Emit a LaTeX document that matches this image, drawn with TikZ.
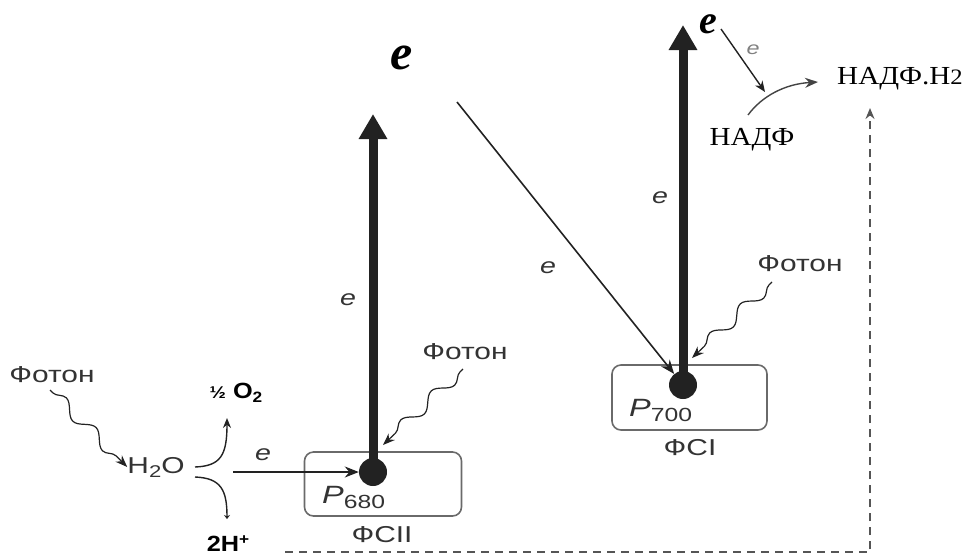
\documentclass[tikz,border=0pt]{standalone}
\usepackage{fontspec}
\setmainfont{Liberation Serif}
\newfontfamily\wsans[FakeStretch=1.3]{Liberation Sans}
\newfontfamily\bsans[FakeStretch=1.15]{Liberation Sans}
\newfontfamily\wserif[FakeStretch=1.12]{Liberation Serif}
\usetikzlibrary{arrows.meta,decorations.pathmorphing}
\definecolor{ink}{HTML}{222222}
\definecolor{txt}{HTML}{333333}
\definecolor{boxc}{HTML}{6A6A6A}
\definecolor{dashc}{HTML}{555555}
\begin{document}
\begin{tikzpicture}[x=1pt,y=-1pt,
  lbl/.style={font=\wsans\fontsize{23}{25}\selectfont, text=txt, inner sep=0pt},
  elbl/.style={font=\wsans\itshape\fontsize{22}{24}\selectfont, text=txt, inner sep=0pt},
  bigE/.style={font=\bfseries\itshape\fontsize{50}{52}\selectfont, text=black, inner sep=0pt},
  ru/.style={font=\wserif\fontsize{26}{28}\selectfont, text=black, inner sep=0pt},
  chem/.style={font=\bsans\bfseries\fontsize{22}{24}\selectfont, text=black, inner sep=0pt},
  psbox/.style={draw=boxc, line width=1.6pt, rounded corners=9pt, inner sep=0pt},
  dotnode/.style={circle, fill=ink, minimum size=28pt, inner sep=0pt},
  bigarrow/.style={draw=ink, line width=9pt, -{Triangle[width=27pt,length=25pt]}},
  earrow/.style={draw=ink, line width=1.6pt, -{Stealth[width=11pt,length=14pt]}},
  smallarrow/.style={draw=ink, line width=1.4pt, -{Stealth[width=9pt,length=11pt]}},
  wave/.style={draw=ink, line width=1.2pt, decorate,
    decoration={snake, amplitude=6pt, segment length=42pt, pre length=4pt, post length=14pt},
    -{Stealth[width=9pt,length=12pt]}},
  dashline/.style={draw=dashc, line width=1.6pt, dash pattern=on 8pt off 6pt,
    -{Stealth[width=9pt,length=11pt]}}
]
\useasboundingbox (0,0) rectangle (968,558);

% ---------- PS II ----------
\node[psbox, minimum width=157pt, minimum height=64pt] (psII) at (383,484) {};
\node[dotnode] (p680) at (373,472) {};
\node[lbl, anchor=base west] (p680t) at (322,503) {\fontsize{25}{27}\selectfont\itshape P\fontsize{19}{21}\selectfont\raisebox{-5pt}{\upshape 680}};
\node[lbl] (fsII) at (382,535) {ФСII};
\coordinate (top1) at (373,114);
\draw[bigarrow] (p680.center) -- (top1);
\node[elbl] (e2) at (348,300) {e};

% ---------- PS I ----------
\node[psbox, minimum width=155pt, minimum height=65pt] (psI) at (689.5,397.5) {};
\node[dotnode] (p700) at (683,385) {};
\node[lbl, anchor=base west] (p700t) at (629,416) {\fontsize{25}{27}\selectfont\itshape P\fontsize{19}{21}\selectfont\raisebox{-5pt}{\upshape 700}};
\node[lbl] (fsI) at (690,448) {ФСI};
\coordinate (top2) at (683,25);
\draw[bigarrow] (p700.center) -- (top2);
\node[elbl] (e4) at (660,198) {e};

% ---------- water splitting ----------
\node[lbl] (ph1) at (52,375) {Фотон};
\node[lbl] (h2o) at (156,467) {H\raisebox{-4pt}{\fontsize{17}{19}\selectfont 2}O};
\node[chem] (o2) at (236,393) {{\fontsize{17}{19}\selectfont ½} O\raisebox{-4pt}{\fontsize{15}{17}\selectfont 2}};
\node[chem] (hp) at (228,544) {2H\raisebox{7pt}{\fontsize{15}{17}\selectfont +}};
\coordinate (ph1s) at (50,390);
\draw[wave] (ph1s) -- (h2o.west);
\coordinate (c1) at (195,467);
\coordinate (c1e) at (227,418);
\draw[draw=ink, line width=1.4pt, -{Stealth[width=8pt,length=10pt]}] (c1) .. controls (221,466) and (227,455) .. (c1e);
\coordinate (c2) at (195,477);
\coordinate (c2e) at (227,519);
\draw[draw=ink, line width=1.4pt, -{Stealth[width=6pt,length=4pt]}] (c2) .. controls (221,478) and (227,490) .. (c2e);
\coordinate (ea) at (233,472);
\draw[earrow] (ea) -- (p680);
\node[elbl] (e1) at (263,455) {e};

% photon onto PS II
\node[lbl] (ph2) at (465,352) {Фотон};
\coordinate (ph2s) at (463,369);
\coordinate (ph2e) at (383,445);
\draw[wave] (ph2s) -- (ph2e);

% photon onto PS I
\node[lbl] (ph3) at (800,264) {Фотон};
\coordinate (ph3s) at (772,282);
\coordinate (ph3e) at (692,358);
\draw[wave] (ph3s) -- (ph3e);

% ---------- electron transfer ----------
\node[bigE, anchor=base] (bigE1) at (402,69) {e};
\coordinate (d1) at (457,102);
\draw[earrow] (d1) -- (p700);
\node[elbl] (e3) at (548,268) {e};

% ---------- NADP ----------
\node[bigE, anchor=base, font=\bfseries\itshape\fontsize{40}{42}\selectfont] (bigE2) at (708,33) {e};
\coordinate (e2t) at (721,29);
\coordinate (e2h) at (765,92);
\draw[smallarrow] (e2t) -- (e2h);
\node[elbl, font=\wsans\itshape\fontsize{18}{20}\selectfont, text=gray] (e5) at (753,50) {e};
\node[ru] (nadp) at (752,140) {НАДФ};
\node[ru] (nadph) at (900,79) {НАДФ.Н{\fontsize{22}{24}\selectfont 2}};
\coordinate (cv1) at (748,115);
\coordinate (cv2) at (818,82);
\draw[draw=ink!85, line width=1.4pt, -{Stealth[width=10pt,length=13pt]}] (cv1) .. controls (762,96) and (785,84) .. (cv2);

% ---------- dashed return ----------
\coordinate (dsL) at (285,552);
\coordinate (dsC) at (870,552);
\coordinate (dsT) at (870,108);
\draw[dashline] (dsL) -- (dsC) -- (dsT);
\end{tikzpicture}
\end{document}
